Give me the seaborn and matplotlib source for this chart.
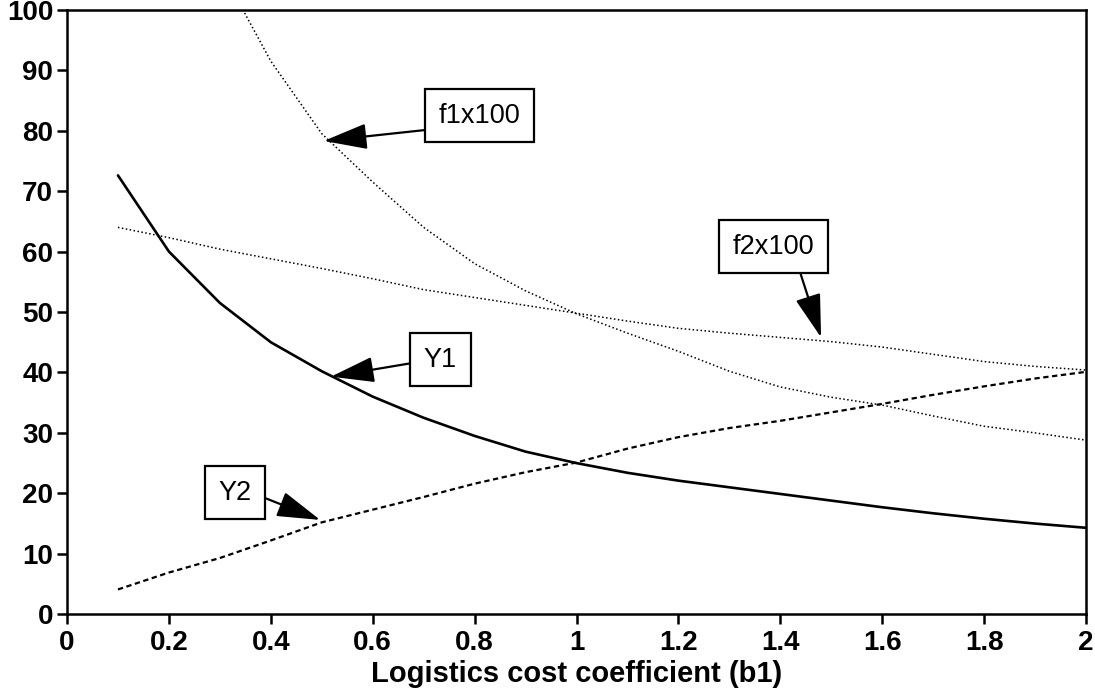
import matplotlib
matplotlib.use("Agg")
import matplotlib.pyplot as plt
import numpy as np
import pandas as pd
import seaborn as sns

# ---- data ----
b1 = [0.1, 0.2, 0.3, 0.4, 0.5, 0.6, 0.7, 0.8, 0.9, 1.0,
      1.1, 1.2, 1.3, 1.4, 1.5, 1.6, 1.7, 1.8, 1.9, 2.0]
y1_vals = [72.6, 60.0, 51.5, 45.0, 40.2, 36.0, 32.5, 29.5, 26.9, 25.0,
           23.4, 22.1, 21.0, 19.9, 18.8, 17.7, 16.7, 15.8, 15.0, 14.3]
y2_vals = [4.1, 6.9, 9.3, 12.2, 15.2, 17.3, 19.4, 21.6, 23.5, 25.1,
           27.4, 29.3, 30.8, 32.0, 33.4, 34.8, 36.3, 37.7, 39.0, 40.1]
f2_vals = [64.0, 62.3, 60.4, 58.8, 57.2, 55.5, 53.7, 52.4, 51.1, 49.8,
           48.5, 47.3, 46.5, 45.8, 45.1, 44.2, 43.0, 41.8, 41.0, 40.4]
b1_f1 = [0.3, 0.4, 0.5, 0.6, 0.7, 0.8, 0.9, 1.0, 1.1, 1.2,
         1.3, 1.4, 1.5, 1.6, 1.7, 1.8, 1.9, 2.0]
f1_vals = [107.0, 91.5, 79.5, 71.5, 64.0, 58.0, 53.5, 49.7, 46.5, 43.5,
           40.2, 37.6, 35.9, 34.6, 32.8, 31.1, 30.0, 28.8]

x_ticks = [0, 0.2, 0.4, 0.6, 0.8, 1.0, 1.2, 1.4, 1.6, 1.8, 2.0]
x_tick_labels = ["0", "0.2", "0.4", "0.6", "0.8", "1", "1.2", "1.4", "1.6", "1.8", "2"]
y_ticks = [0, 10, 20, 30, 40, 50, 60, 70, 80, 90, 100]
x_label = "Logistics cost coefficient (b1)"

# annotation labels: (text, arrow tip (x, y), box centre (x, y), arrow start relpos)
labels = ["f1x100", "f2x100", "Y1", "Y2"]
tips = [(0.504, 78.3), (1.48, 45.8), (0.518, 39.3), (0.497, 15.6)]
boxes = [(0.81, 82.5), (1.386, 60.8), (0.733, 42.1), (0.33, 20.1)]
relposes = [(0.0, 0.0), (0.78, 0.0), (0.0, 0.45), (1.0, 0.5)]

sns.set_style("ticks")
plt.rcParams["font.family"] = ["Liberation Sans", "DejaVu Sans"]

fig = plt.figure(figsize=(10.95, 6.98), dpi=100)
ax = fig.add_axes([0.0612, 0.12, 0.9306, 0.866])

sns.lineplot(x=b1, y=y1_vals, ax=ax, color="black", linewidth=1.9, linestyle="-")
sns.lineplot(x=b1, y=y2_vals, ax=ax, color="black", linewidth=1.6,
             linestyle=(0, (2.4, 1.6)))
sns.lineplot(x=b1, y=f2_vals, ax=ax, color="black", linewidth=1.1,
             linestyle=(0, (1, 1.6)))
sns.lineplot(x=b1_f1, y=f1_vals, ax=ax, color="black", linewidth=1.1,
             linestyle=(0, (1, 1.6)))

ax.set_xlim(0, 2)
ax.set_ylim(0, 100)
ax.set_xticks(x_ticks)
ax.set_xticklabels(x_tick_labels)
ax.set_yticks(y_ticks)

for s in ax.spines.values():
    s.set_visible(True)
    s.set_linewidth(1.8)
    s.set_color("black")

ax.tick_params(axis="both", which="major", direction="out", length=7, width=1.8,
               colors="black", labelsize=20, pad=3)
ax.tick_params(axis="x", pad=4)
for t in ax.get_xticklabels() + ax.get_yticklabels():
    t.set_fontweight("bold")

ax.set_xlabel(x_label, fontsize=21, fontweight="bold", color="black", labelpad=3)
ax.set_ylabel("")

for txt, tip, box, rp in zip(labels, tips, boxes, relposes):
    ax.annotate(txt, xy=tip, xytext=box, xycoords="data", textcoords="data",
                ha="center", va="center", fontsize=19.5, color="black",
                bbox=dict(boxstyle="square,pad=0.5", fc="white", ec="black", lw=1.6),
                arrowprops=dict(arrowstyle="-|>,head_length=1.35,head_width=0.4",
                                mutation_scale=20, fc="black", ec="black", lw=1.6,
                                shrinkA=0, shrinkB=0, relpos=rp))

fig.savefig("out.png", dpi=100)
